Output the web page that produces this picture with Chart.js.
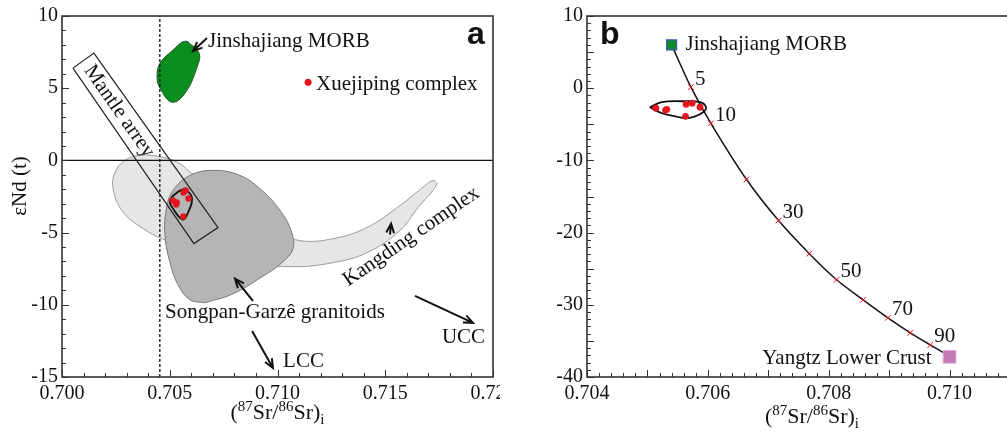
<!DOCTYPE html>
<html>
<head>
<meta charset="utf-8">
<script src="https://cdn.jsdelivr.net/npm/chart.js@4.4.0/dist/chart.umd.min.js"></script>
<style>
html, body { margin: 0; padding: 0; background: #fff; overflow: hidden; width: 1007px; height: 436px; }
#wrapA { position: absolute; left: 0; top: 0; width: 500px; height: 436px; }
#wrapB { position: absolute; left: 530px; top: 0; width: 490px; height: 436px; }
</style>
</head>
<body>
<div id="wrapA"><canvas id="chartA"></canvas></div>
<div id="wrapB"><canvas id="chartB"></canvas></div>
<script>
// ---- panel a : (87Sr/86Sr)i vs eNd(t) ----
const aTicksX = [0.700, 0.705, 0.710, 0.715, 0.720];
const aTicksY = [-15, -10, -5, 0, 5, 10];

// Xuejiping complex samples (same in both panels)
const xuejipingSr = [0.70514, 0.70530, 0.70532, 0.70564, 0.70574, 0.70587, 0.70563];
const xuejipingNd = [-2.78, -3.06, -2.92, -2.22, -2.08, -2.64, -3.89];

// field outlines [Sr, Nd]
const morbField = [[0.70580, 8.26], [0.70636, 7.43], [0.70627, 6.46], [0.70571, 4.65], [0.70510, 4.03],
  [0.70455, 5.00], [0.70441, 5.76], [0.70455, 6.74], [0.70515, 7.64], [0.70557, 8.19]];
const mantleArray = [[0.70051, 6.39], [0.70148, 7.43], [0.70724, -4.65], [0.70612, -5.76], [0.70051, 6.39]];
const kangdingField = [[0.71740, -1.60], [0.71722, -2.08], [0.71652, -3.26], [0.71568, -4.86], [0.71415, -6.39],
  [0.71258, -7.08], [0.71072, -7.36], [0.70872, -7.08], [0.70640, -6.11], [0.70487, -5.56], [0.70362, -4.58],
  [0.70278, -3.47], [0.70237, -1.94], [0.70246, -0.83], [0.70292, 0.0], [0.70362, 0.35], [0.70446, 0.28],
  [0.70538, -0.14], [0.70617, -1.04], [0.70826, -2.43], [0.71035, -5.0], [0.71104, -5.56], [0.71258, -5.42],
  [0.71415, -4.65], [0.71568, -3.13], [0.71685, -1.74], [0.71722, -1.39]];
const songpanField = [[0.70664, -9.86], [0.70794, -9.24], [0.70928, -8.06], [0.71021, -7.08], [0.71072, -6.11],
  [0.71063, -4.86], [0.71012, -3.47], [0.70928, -2.08], [0.70826, -1.04], [0.70701, -0.69], [0.70594, -1.04],
  [0.70515, -2.08], [0.70483, -3.47], [0.70478, -5.21], [0.70501, -7.08], [0.70538, -8.61], [0.70594, -9.65]];
const xuejipingFieldA = [[0.70571, -1.94], [0.70603, -2.57], [0.70585, -3.61], [0.70561, -4.10],
  [0.70515, -3.33], [0.70501, -2.78], [0.70534, -2.22]];
const zeroLine = [[0.700, 0], [0.720, 0]];
const mantleSrLine = [[0.70454, -15], [0.70454, 10]];

// ---- panel b : mixing model ----
const bTicksX = [0.704, 0.706, 0.708, 0.710];
const bTicksY = [-40, -30, -20, -10, 0, 10];
const mixPercent = [0, 5, 10, 20, 30, 40, 50, 60, 70, 80, 90, 100];
const mixSr = [0.70540, 0.70572, 0.70605, 0.70664, 0.70717, 0.70768, 0.70813, 0.70857, 0.70898, 0.70935, 0.70968, 0.70999];
const mixNd = [6.0, 0.14, -4.86, -12.64, -18.33, -22.92, -26.53, -29.31, -31.81, -33.89, -35.56, -37.08];
const mixLabelled = [5, 10, 30, 50, 70, 90];
const morbEnd = [0.70540, 6.0];
const crustEnd = [0.71000, -37.2];
const xuejipingFieldB = [[0.70504, -2.64], [0.70524, -1.94], [0.70556, -1.81], [0.70587, -1.94], [0.70597, -2.64],
  [0.70592, -3.33], [0.70579, -3.89], [0.70563, -4.17], [0.70546, -3.89], [0.70524, -3.47]];

const serif = '"Liberation Serif", "Times New Roman", serif';
const tickFont = { family: serif, size: 20 };

const pts = arr => arr.map(p => ({ x: p[0], y: p[1] }));
const closed = arr => pts(arr.concat([arr[0]]));
const samples = xuejipingSr.map((v, i) => ({ x: v, y: xuejipingNd[i] }));

function axes(xMin, xMax, yMin, yMax, xTicks, yTicks, yWidth) {
  return {
    x: {
      type: 'linear', min: xMin, max: xMax,
      grid: { display: false, drawTicks: false }, border: { display: false },
      afterBuildTicks: s => { s.ticks = xTicks.map(v => ({ value: v })); },
      afterFit: s => { s.height = 59; s.paddingLeft = 0; s.paddingRight = 0; },
      ticks: { font: tickFont, color: '#111', padding: 5, maxRotation: 0, autoSkip: false, callback: v => v.toFixed(3) }
    },
    y: {
      type: 'linear', min: yMin, max: yMax,
      grid: { display: false, drawTicks: false }, border: { display: false },
      afterBuildTicks: s => { s.ticks = yTicks.map(v => ({ value: v })); },
      afterFit: s => { s.width = yWidth; s.paddingTop = 0; s.paddingBottom = 0; },
      ticks: { font: tickFont, color: '#111', padding: 4, autoSkip: false, callback: v => String(v) }
    }
  };
}

const isMult = (v, step) => Math.abs(v / step - Math.round(v / step)) < 1e-4;

// frame box and inward tick marks
function frameTicks(cfg) {
  return {
    id: 'frameTicks',
    afterDatasetsDraw(chart) {
      const { ctx, chartArea: a, scales: { x, y } } = chart;
      ctx.save();
      ctx.strokeStyle = '#333';
      ctx.lineWidth = 1;
      ctx.beginPath();
      const nx = Math.round((x.max - x.min) / cfg.xMinor);
      for (let i = 0; i <= nx; i++) {
        const v = x.min + i * cfg.xMinor;
        const px = Math.round(x.getPixelForValue(v)) + 0.5;
        const len = isMult(v, cfg.xMajor) ? 7 : 4;
        ctx.moveTo(px, a.bottom); ctx.lineTo(px, a.bottom - len);
      }
      const ny = Math.round((y.max - y.min) / cfg.yMinor);
      for (let i = 0; i <= ny; i++) {
        const v = y.min + i * cfg.yMinor;
        const py = Math.round(y.getPixelForValue(v)) + 0.5;
        const len = isMult(v, cfg.yMajor) ? 7 : 4;
        ctx.moveTo(a.left, py); ctx.lineTo(a.left + len, py);
      }
      ctx.stroke();
      ctx.lineWidth = 1.6;
      ctx.strokeRect(a.left, a.top, a.right - a.left, a.bottom - a.top);
      ctx.restore();
    }
  };
}

function drawText(ctx, text, px, py, font, align, rot) {
  ctx.save();
  ctx.translate(px, py);
  if (rot) ctx.rotate(rot * Math.PI / 180);
  ctx.font = font;
  ctx.fillStyle = '#111';
  ctx.textAlign = align || 'left';
  ctx.textBaseline = 'middle';
  ctx.fillText(text, 0, 0);
  ctx.restore();
}

function drawArrow(ctx, x1, y1, x2, y2) {
  const ang = Math.atan2(y2 - y1, x2 - x1);
  const h = 10;
  ctx.save();
  ctx.strokeStyle = '#111';
  ctx.lineWidth = 2;
  ctx.beginPath();
  ctx.moveTo(x1, y1); ctx.lineTo(x2, y2);
  ctx.moveTo(x2 - h * Math.cos(ang - 0.4), y2 - h * Math.sin(ang - 0.4));
  ctx.lineTo(x2, y2);
  ctx.lineTo(x2 - h * Math.cos(ang + 0.4), y2 - h * Math.sin(ang + 0.4));
  ctx.stroke();
  ctx.restore();
}

// (87Sr/86Sr)i with super/subscripts
function drawSrTitle(ctx, cx, cy) {
  const parts = [['(', 0], ['87', 1], ['Sr/', 0], ['86', 1], ['Sr)', 0], ['i', -1]];
  const big = '22px ' + serif, small = '15px ' + serif;
  ctx.save();
  ctx.fillStyle = '#111';
  ctx.textBaseline = 'alphabetic';
  let w = 0;
  parts.forEach(p => { ctx.font = p[1] ? small : big; w += ctx.measureText(p[0]).width; });
  let x = cx - w / 2;
  const base = cy + 7;
  parts.forEach(p => {
    ctx.font = p[1] ? small : big;
    const dy = p[1] === 1 ? -8 : (p[1] === -1 ? 5 : 0);
    ctx.fillText(p[0], x, base + dy);
    x += ctx.measureText(p[0]).width;
  });
  ctx.restore();
}

const labelFont = '21px ' + serif;

const aLabels = [
  { text: 'Jinshajiang MORB', x: 0.70678, y: 8.26 },
  { text: 'Xuejiping complex', x: 0.71179, y: 5.28 },
  { text: 'Songpan-Garzê granitoids', x: 0.70478, y: -10.56 },
  { text: 'LCC', x: 0.71026, y: -13.96 },
  { text: 'UCC', x: 0.71763, y: -12.29 },
  { text: 'Mantle arrey', x: 0.70265, y: 3.40, rot: 55, align: 'center' },
  { text: 'Kangding complex', x: 0.71620, y: -5.28, rot: -34.5, align: 'center' }
];
const aArrows = [
  [0.70673, 8.47, 0.70608, 7.57],
  [0.70886, -9.72, 0.70803, -8.19],
  [0.71522, -5.14, 0.71527, -4.38],
  [0.70882, -11.81, 0.70979, -14.38],
  [0.71638, -9.38, 0.71907, -11.25]
];
const aLegendDot = [0.71142, 5.42];

const annotA = {
  id: 'annotA',
  afterDraw(chart) {
    const { ctx, chartArea: a, scales: { x, y } } = chart;
    aLabels.forEach(l => drawText(ctx, l.text, x.getPixelForValue(l.x), y.getPixelForValue(l.y), labelFont, l.align, l.rot));
    aArrows.forEach(r => drawArrow(ctx, x.getPixelForValue(r[0]), y.getPixelForValue(r[1]), x.getPixelForValue(r[2]), y.getPixelForValue(r[3])));
    ctx.save();
    ctx.fillStyle = '#e3161f';
    ctx.beginPath();
    ctx.arc(x.getPixelForValue(aLegendDot[0]), y.getPixelForValue(aLegendDot[1]), 3.5, 0, Math.PI * 2);
    ctx.fill();
    ctx.restore();
    drawText(ctx, 'a', a.right - 26, a.top + 19, 'bold 32px "Liberation Sans", Arial, sans-serif', 'left');
    drawText(ctx, 'εNd (t)', 20, 186, labelFont, 'center', -90);
    drawSrTitle(ctx, (a.left + a.right) / 2, 412);
  }
};

const bLabels = [
  { text: 'Jinshajiang MORB', x: 0.70563, y: 6.11 },
  { text: 'Yangtz Lower Crust', x: 0.70690, y: -37.5 }
];

const annotB = {
  id: 'annotB',
  afterDraw(chart) {
    const { ctx, chartArea: a, scales: { x, y } } = chart;
    bLabels.forEach(l => drawText(ctx, l.text, x.getPixelForValue(l.x), y.getPixelForValue(l.y), labelFont, 'left'));
    mixPercent.forEach((p, i) => {
      if (mixLabelled.indexOf(p) < 0) return;
      drawText(ctx, String(p), x.getPixelForValue(mixSr[i]) + 4, y.getPixelForValue(mixNd[i]) - 8, labelFont, 'left');
    });
    drawText(ctx, 'b', a.left + 13, a.top + 19, 'bold 32px "Liberation Sans", Arial, sans-serif', 'left');
    drawSrTitle(ctx, 282, 416);
  }
};

const fieldStyle = (fill, border, width, tension) => ({
  type: 'line', showLine: true, pointRadius: 0, fill: fill ? 'shape' : false,
  backgroundColor: fill || 'transparent', borderColor: border, borderWidth: width, tension: tension
});

new Chart(document.getElementById('chartA'), {
  type: 'scatter',
  data: {
    datasets: [
      { data: samples, pointRadius: 3.2, pointBackgroundColor: '#e3161f', pointBorderWidth: 0, showLine: false },
      Object.assign({ data: closed(xuejipingFieldA) }, fieldStyle(null, '#111', 1.8, 0.45)),
      Object.assign({ data: pts(zeroLine) }, fieldStyle(null, '#111', 1.3, 0)),
      Object.assign({ data: pts(mantleSrLine), borderDash: [3, 2] }, fieldStyle(null, '#111', 1.3, 0)),
      Object.assign({ data: pts(mantleArray) }, fieldStyle(null, '#222', 1.2, 0)),
      Object.assign({ data: closed(songpanField) }, fieldStyle('#b5b5b5', '#7a7a7a', 1, 0.4)),
      Object.assign({ data: closed(kangdingField) }, fieldStyle('#e6e6e6', '#9a9a9a', 1, 0.4)),
      Object.assign({ data: closed(morbField) }, fieldStyle('#0b8c1f', '#245a24', 1, 0.4))
    ]
  },
  options: {
    responsive: true, maintainAspectRatio: false, animation: false,
    layout: { padding: { top: 16, right: 7, left: 0, bottom: 0 } },
    plugins: { legend: { display: false }, tooltip: { enabled: false } },
    scales: axes(0.700, 0.720, -15, 10, aTicksX, aTicksY, 62)
  },
  plugins: [frameTicks({ xMinor: 0.001, xMajor: 0.005, yMinor: 1, yMajor: 5 }), annotA]
});

new Chart(document.getElementById('chartB'), {
  type: 'scatter',
  data: {
    datasets: [
      { data: pts([morbEnd]), pointStyle: 'rect', pointRadius: 7, pointBackgroundColor: '#138a2e', pointBorderColor: '#3a55a5', pointBorderWidth: 1.2 },
      { data: pts([crustEnd]), pointStyle: 'rect', pointRadius: 9, pointBackgroundColor: '#c27ab4', pointBorderColor: '#d9a6cf', pointBorderWidth: 1 },
      { data: samples, pointRadius: 3.4, pointBackgroundColor: '#e3161f', pointBorderWidth: 0 },
      Object.assign({ data: closed(xuejipingFieldB) }, fieldStyle(null, '#111', 1.8, 0.4)),
      {
        type: 'line', showLine: true, fill: false, tension: 0.3,
        data: mixSr.map((v, i) => ({ x: v, y: mixNd[i] })),
        borderColor: '#111', borderWidth: 1.5,
        pointStyle: 'crossRot', pointBorderColor: '#e3161f', pointBorderWidth: 1,
        pointRadius: mixPercent.map(p => (p === 0 || p === 100) ? 0 : 4)
      }
    ]
  },
  options: {
    responsive: true, maintainAspectRatio: false, animation: false,
    layout: { padding: { top: 16, right: 3, left: 0, bottom: 0 } },
    plugins: { legend: { display: false }, tooltip: { enabled: false } },
    scales: axes(0.704, 0.711, -40, 10, bTicksX, bTicksY, 57)
  },
  plugins: [frameTicks({ xMinor: 0.0002, xMajor: 0.001, yMinor: 1, yMajor: 5 }), annotB]
});
</script>
</body>
</html>
